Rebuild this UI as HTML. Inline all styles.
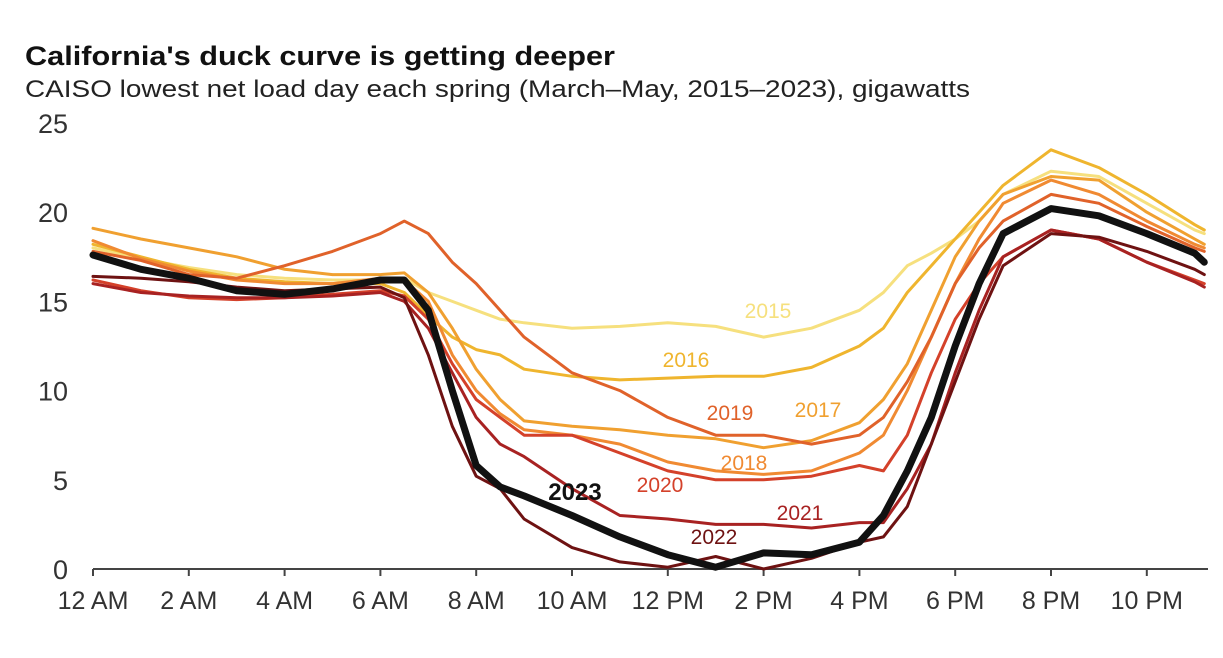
<!DOCTYPE html>
<html><head><meta charset="utf-8"><style>
body{margin:0;background:#fff;font-family:"Liberation Sans",Arial,sans-serif}
svg text{font-family:"Liberation Sans",Arial,sans-serif}
</style></head><body>
<svg id="chart" width="1223" height="653" viewBox="0 0 1223 653">
<text x="25" y="65" font-size="27" font-weight="bold" fill="#111" textLength="590" lengthAdjust="spacingAndGlyphs">California's duck curve is getting deeper</text>
<text x="25" y="97" font-size="24" fill="#222" textLength="945" lengthAdjust="spacingAndGlyphs">CAISO lowest net load day each spring (March–May, 2015–2023), gigawatts</text>
<g id="yaxis"></g>
<g id="xaxis"></g>
<g id="lines"></g>
<g id="labels"></g>
</svg>
<script>
const hours=[0,1,2,3,4,5,6,6.5,7,7.5,8,8.5,9,10,11,12,13,14,15,16,16.5,17,17.5,18,18.5,19,20,21,22,23,23.2];
const yTicks=[0,5,10,15,20,25];
const xTickHours=[0,2,4,6,8,10,12,14,16,18,20,22];
const xTickLabels=["12 AM","2 AM","4 AM","6 AM","8 AM","10 AM","12 PM","2 PM","4 PM","6 PM","8 PM","10 PM"];
const years=["2015","2016","2017","2018","2019","2020","2021","2022","2023"];
const s2015=[18,17.4,16.9,16.5,16.3,16.2,16.2,16.3,15.5,15,14.5,14,13.8,13.5,13.6,13.8,13.6,13,13.5,14.5,15.5,17,17.7,18.5,19.5,21,22.3,22,20.5,19,18.8];
const s2016=[18.2,17.5,16.8,16.3,16.1,16,16,15.5,14.2,13,12.3,12,11.2,10.8,10.6,10.7,10.8,10.8,11.3,12.5,13.5,15.5,17,18.5,20,21.5,23.5,22.5,21,19.3,19];
const s2017=[19.1,18.5,18,17.5,16.8,16.5,16.5,16.6,15.5,13.5,11.2,9.5,8.3,8,7.8,7.5,7.3,6.8,7.2,8.2,9.5,11.5,14.5,17.5,19.5,21,22,21.8,20,18.5,18.2];
const s2018=[18.4,17.4,16.7,16.2,16,16,16.3,16.2,15,12,10,8.7,7.8,7.5,7,6,5.5,5.3,5.5,6.5,7.5,10,13,16,18.5,20.5,21.8,21,19.5,18.2,18];
const s2019=[17.8,17.3,16.5,16.3,17,17.8,18.8,19.5,18.8,17.2,16,14.5,13,11,10,8.5,7.5,7.5,7,7.5,8.5,10.5,13,16,18,19.5,21,20.5,19.2,18,17.8];
const s2020=[16.2,15.6,15.2,15.1,15.2,15.4,15.6,15.3,14,11.5,9.5,8.5,7.5,7.5,6.5,5.5,5,5,5.2,5.8,5.5,7.5,11,14,16,17.5,19,18.5,17.2,16.2,16];
const s2021=[16,15.5,15.3,15.2,15.2,15.3,15.5,15,13.5,11,8.5,7,6.3,4.5,3,2.8,2.5,2.5,2.3,2.6,2.6,4.5,7,11,14.5,17.5,19,18.5,17.2,16.1,15.8];
const s2022=[16.4,16.3,16.1,15.8,15.6,15.7,15.8,15.2,12,8,5.2,4.5,2.8,1.2,0.4,0.1,0.7,0,0.6,1.5,1.8,3.5,7,10.5,14,17,18.8,18.6,17.8,16.8,16.5];
const s2023=[17.6,16.8,16.3,15.6,15.4,15.7,16.2,16.2,14.5,10,5.8,4.6,4.1,3,1.8,0.8,0.1,0.9,0.8,1.5,3,5.5,8.5,12.5,16,18.8,20.2,19.8,18.8,17.7,17.2];
const seriesList=[s2015,s2016,s2017,s2018,s2019,s2020,s2021,s2022,s2023];
const colors=["#f6e07e","#efb52e","#f0a030","#f08a32","#e0622a","#d4412a","#a82222","#6e1212","#111"];
const labelPos=[[768,318],[686,367],[818,417],[744,470],[730,420],[660,492],[800,520],[714,544],[575,500]];
const X0=93,PXH=47.9,Y0=569,PXV=17.84;
const xS=h=>X0+h*PXH, yS=v=>Y0-v*PXV;
const NS="http://www.w3.org/2000/svg";
function mk(t,a,p){const e=document.createElementNS(NS,t);for(const k in a)e.setAttribute(k,a[k]);p.appendChild(e);return e;}
const ya=document.getElementById('yaxis');
yTicks.forEach(v=>{const t=mk('text',{x:68,y:yS(v)+10,'text-anchor':'end','font-size':27,fill:'#333'},ya);t.textContent=v;

});
const xa=document.getElementById('xaxis');
const ax=mk('line',{x1:X0,x2:1208,y1:Y0,y2:Y0,stroke:'#444','stroke-width':2},xa);


xTickHours.forEach((h,i)=>{const l=mk('line',{x1:xS(h),x2:xS(h),y1:Y0,y2:Y0+7,stroke:'#444','stroke-width':2},xa);


const t=mk('text',{x:xS(h),y:Y0+40,'text-anchor':'middle','font-size':25,fill:'#333'},xa);t.textContent=xTickLabels[i];

});
const lg=document.getElementById('lines'),lb=document.getElementById('labels');
seriesList.forEach((s,i)=>{const d=s.map((v,j)=>(j?'L':'M')+xS(hours[j]).toFixed(1)+','+yS(v).toFixed(1)).join('');
const p=mk('path',{d:d,fill:'none',stroke:colors[i],'stroke-width':i==8?7:3,'stroke-linejoin':'round','stroke-linecap':'round'},lg);


const t=mk('text',{x:labelPos[i][0],y:labelPos[i][1],'text-anchor':'middle','font-size':i==8?24:21,'font-weight':i==8?'bold':'normal',fill:colors[i]},lb);t.textContent=years[i];

});
</script>
</body></html>
